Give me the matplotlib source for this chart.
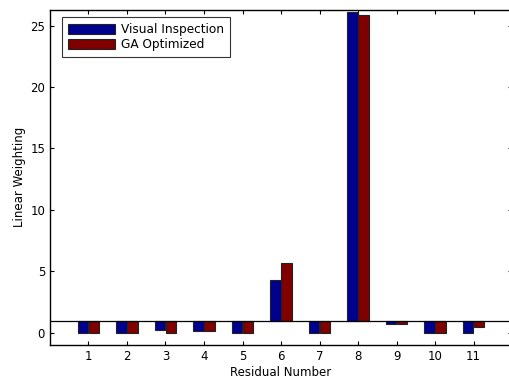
import numpy as np
import matplotlib
matplotlib.use("Agg")
import matplotlib.pyplot as plt

plt.rcParams['font.family'] = ['DejaVu Sans']

residuals = [1, 2, 3, 4, 5, 6, 7, 8, 9, 10, 11]
visual = [0.02, 0.02, 0.2, 0.12, 0.02, 4.3, 0.02, 26.1, 0.7, 0.02, 0.02]
ga_opt = [-0.04, 0.02, 0.02, 0.15, 0.02, 5.65, 0.02, 25.85, 0.7, 0.02, 0.45]
base = 1.0

fig = plt.figure(figsize=(5.1, 3.81), dpi=100)
ax = fig.add_axes([0.098, 0.094, 0.906, 0.881])

x = np.array(residuals)
w = 0.27
vis = np.array(visual) - base
ga = np.array(ga_opt) - base
ax.bar(x - 0.14, vis, w, bottom=base, color='#00008F', edgecolor='#222222',
       linewidth=0.8, label='Visual Inspection', zorder=2)
ax.bar(x + 0.14, ga, w, bottom=base, color='#800000', edgecolor='#222222',
       linewidth=0.8, label='GA Optimized', zorder=2)
ax.axhline(base, color='black', linewidth=0.9, zorder=3)

ax.set_xlim(0, 12)
ax.set_ylim(-1, 26.3)
ax.set_xticks(residuals)
ax.set_yticks([0, 5, 10, 15, 20, 25])
ax.tick_params(direction='in', top=True, right=True, labelsize=8.5, length=3)
ax.set_xlabel('Residual Number', fontsize=8.5, labelpad=2)
ax.set_ylabel('Linear Weighting', fontsize=8.5, labelpad=3)
for s in ax.spines.values():
    s.set_linewidth(1.0)

leg = ax.legend(loc='upper left', bbox_to_anchor=(0.02, 0.985), fontsize=8.7,
                frameon=True, fancybox=False, edgecolor='black',
                handlelength=3.9, handleheight=0.95, borderaxespad=0.2,
                borderpad=0.5, labelspacing=0.2, handletextpad=0.5)
leg.get_frame().set_linewidth(0.8)

fig.savefig('out.png', dpi=100)
